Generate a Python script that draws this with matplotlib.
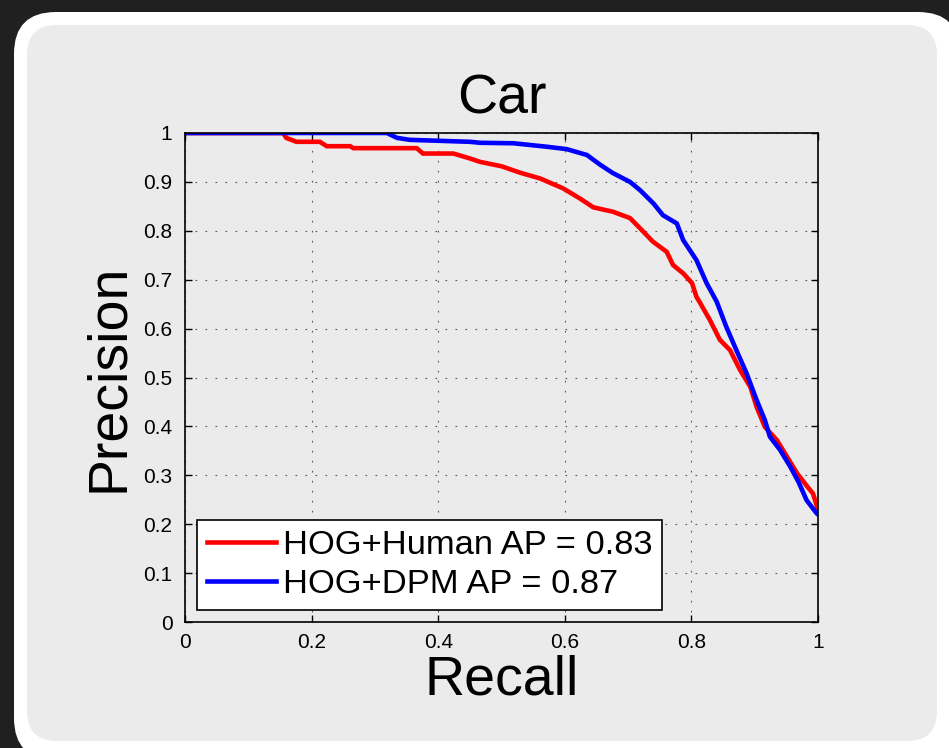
import matplotlib
matplotlib.use("Agg")
import matplotlib.pyplot as plt
from matplotlib.patches import FancyBboxPatch

# ---- data ----
human_recall = [0, 0.155, 0.160, 0.176, 0.213, 0.224, 0.261, 0.266, 0.366, 0.376, 0.424, 0.45,
                0.466, 0.50, 0.529, 0.561, 0.597, 0.624, 0.645, 0.676, 0.703, 0.719, 0.739,
                0.761, 0.771, 0.787, 0.801, 0.808, 0.814, 0.829, 0.845, 0.861, 0.877, 0.893,
                0.903, 0.916, 0.935, 0.951, 0.967, 0.983, 0.992, 1.0]
human_precision = [1.0, 1.0, 0.99, 0.982, 0.982, 0.973, 0.973, 0.969, 0.969, 0.958, 0.958, 0.948,
                   0.941, 0.932, 0.919, 0.907, 0.887, 0.866, 0.848, 0.839, 0.826, 0.805, 0.778,
                   0.757, 0.730, 0.713, 0.693, 0.665, 0.652, 0.618, 0.577, 0.556, 0.515, 0.481,
                   0.440, 0.399, 0.372, 0.338, 0.304, 0.277, 0.263, 0.23]
dpm_recall = [0, 0.319, 0.335, 0.355, 0.45, 0.466, 0.519, 0.571, 0.603, 0.635, 0.656, 0.676,
              0.703, 0.719, 0.740, 0.755, 0.777, 0.787, 0.808, 0.824, 0.840, 0.855, 0.871,
              0.887, 0.903, 0.916, 0.924, 0.940, 0.956, 0.969, 0.982, 0.998, 1.0]
dpm_precision = [1.0, 1.0, 0.99, 0.986, 0.982, 0.980, 0.979, 0.972, 0.967, 0.955, 0.935, 0.918,
                 0.900, 0.883, 0.856, 0.832, 0.815, 0.781, 0.740, 0.693, 0.655, 0.604, 0.556,
                 0.509, 0.454, 0.413, 0.379, 0.352, 0.318, 0.287, 0.249, 0.222, 0.22]
labels = ["HOG+Human AP = 0.83", "HOG+DPM AP = 0.87"]
ticks = [0, 0.2, 0.4, 0.6, 0.8, 1]
tick_labels = ["0", "0.2", "0.4", "0.6", "0.8", "1"]
yticks = [0, 0.1, 0.2, 0.3, 0.4, 0.5, 0.6, 0.7, 0.8, 0.9, 1]
ytick_labels = ["0", "0.1", "0.2", "0.3", "0.4", "0.5", "0.6", "0.7", "0.8", "0.9", "1"]

plt.rcParams['font.family'] = ['Liberation Sans', 'DejaVu Sans']

W, H = 949, 748
fig = plt.figure(figsize=(W / 100, H / 100), dpi=100)
fig.patch.set_facecolor('#202020')

# background frame
bg = fig.add_axes([0, 0, 1, 1])
bg.set_xlim(0, W)
bg.set_ylim(H, 0)
bg.axis('off')
bg.add_patch(FancyBboxPatch((14 + 42, 12 + 42), 960 - 14 - 84, 760 - 12 - 84,
                            boxstyle="round,pad=42", fc='white', ec='none'))
bg.add_patch(FancyBboxPatch((27 + 30, 25 + 30), 937 - 27 - 60, 741 - 25 - 60,
                            boxstyle="round,pad=30", fc='#ebebeb', ec='none'))

ax = fig.add_axes([185 / W, 1 - 622 / H, (818 - 185) / W, (622 - 133) / H])
ax.set_facecolor('#ebebeb')
ax.plot(human_recall, human_precision, color='#ff0000', lw=3.3, label=labels[0],
        solid_joinstyle='miter')
ax.plot(dpm_recall, dpm_precision, color='#0000ff', lw=3.3, label=labels[1],
        solid_joinstyle='miter')
ax.set_xlim(0, 1)
ax.set_ylim(0, 1)
ax.set_xticks(ticks)
ax.set_xticklabels(tick_labels)
ax.set_yticks(yticks)
ax.set_yticklabels(ytick_labels)
ax.tick_params(direction='in', length=5, width=1, top=True, right=True, labelsize=15,
               colors='black')
ax.tick_params(axis='x', pad=8)
ax.tick_params(axis='y', pad=9)
ax.grid(True, color='#555555', lw=0.8, linestyle=(0, (1.5, 7.5)))
for s in ax.spines.values():
    s.set_color('black')
    s.set_linewidth(1.2)

ax.set_title("Car", fontsize=40, pad=14)
ax.set_xlabel("Recall", fontsize=40, labelpad=2)
ax.set_ylabel("Precision", fontsize=40, labelpad=6)

leg = ax.legend(loc='lower left', bbox_to_anchor=(0.019, 0.0245), borderaxespad=0,
                fontsize=24.8, handlelength=2.0, handletextpad=0.22, labelspacing=0.25,
                borderpad=0.28, fancybox=False, framealpha=1, edgecolor='black',
                facecolor='white')
leg.get_frame().set_linewidth(1.2)

fig.savefig("out.png", dpi=100, facecolor=fig.get_facecolor())
